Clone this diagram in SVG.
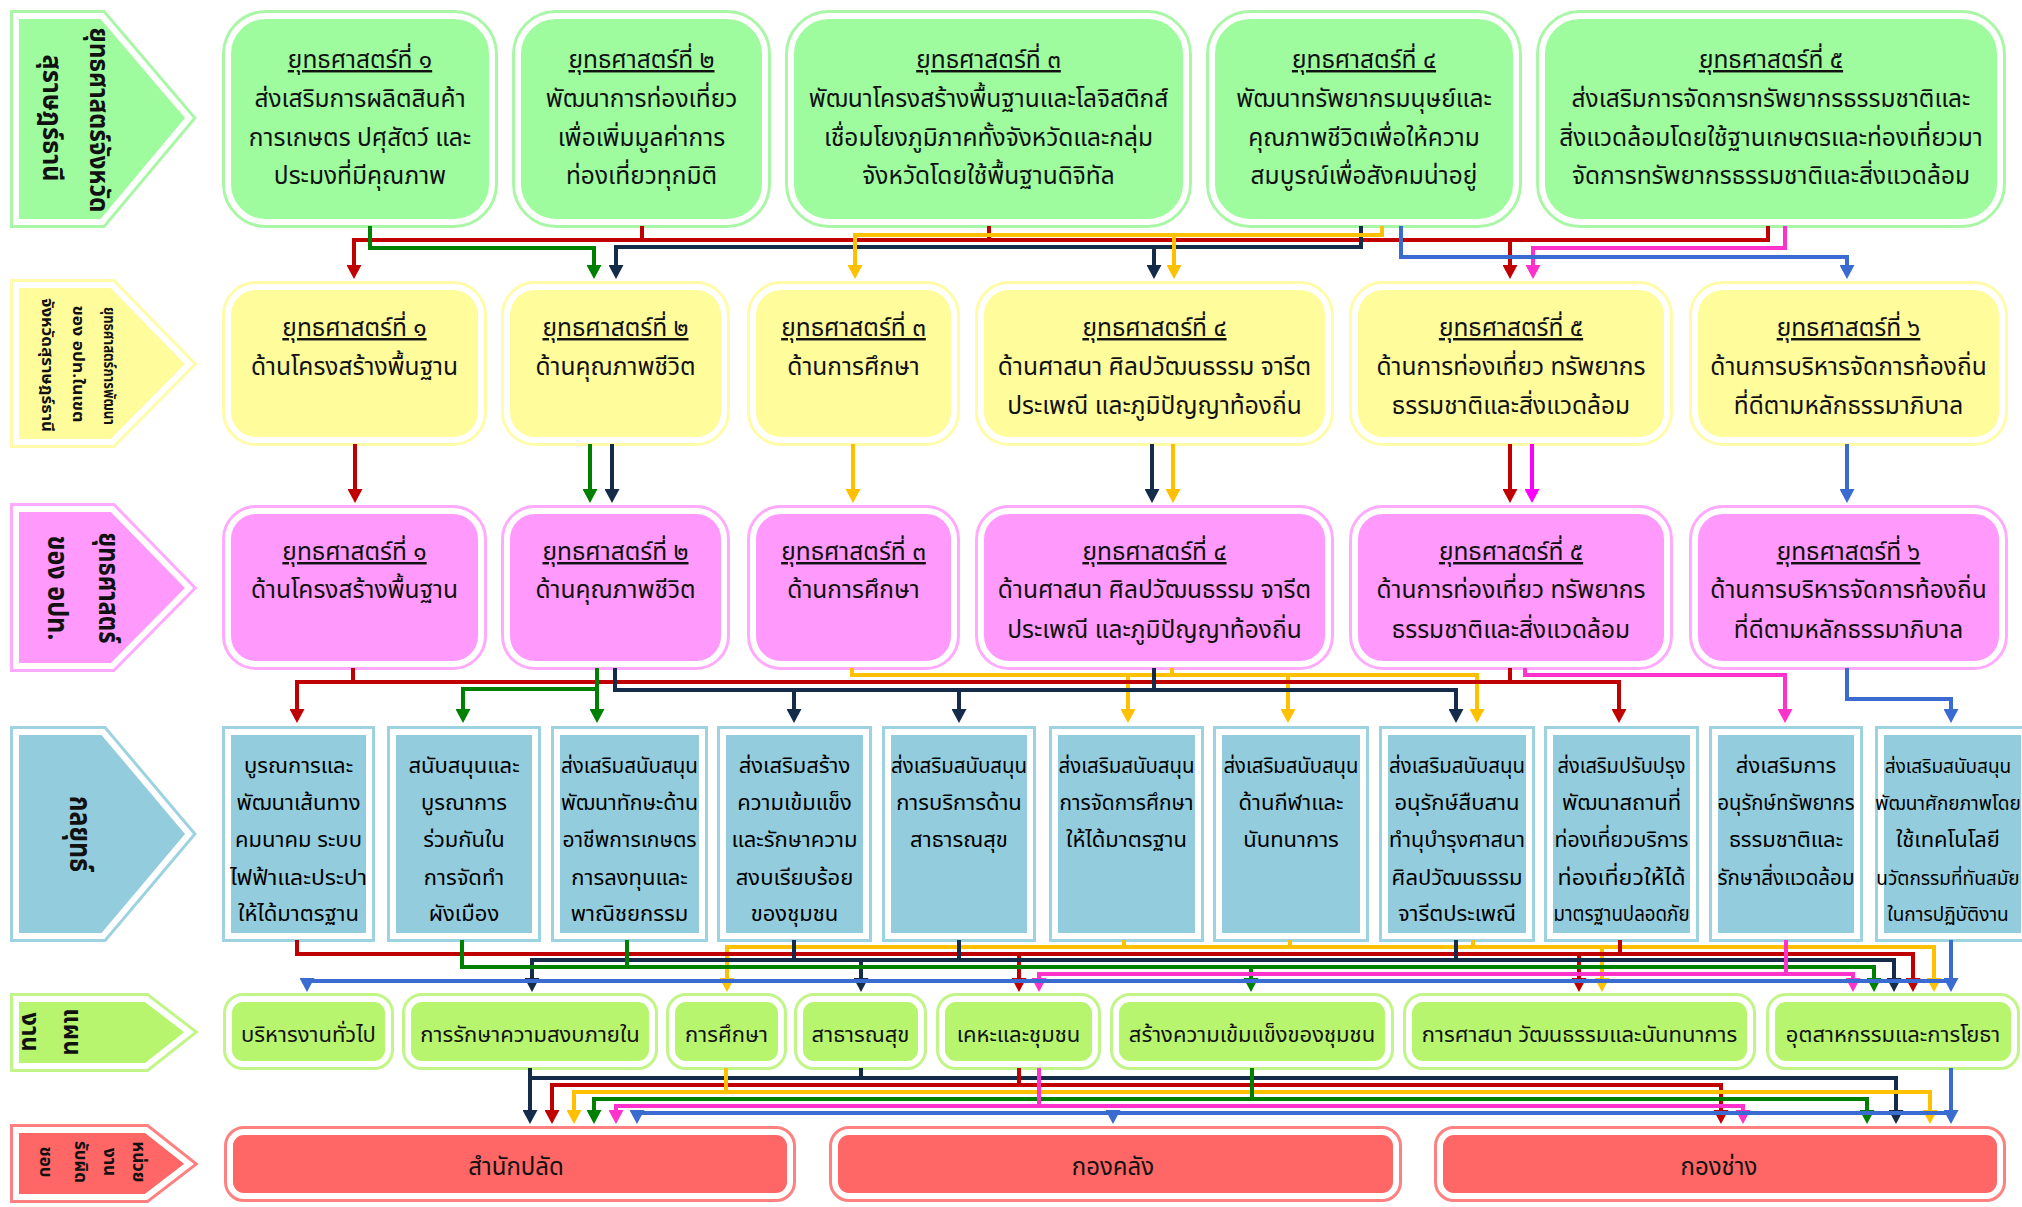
<svg xmlns="http://www.w3.org/2000/svg" width="2022" height="1207" viewBox="0 0 2022 1207">
<style>
.t{font-family:"Noto Sans Thai","Noto Sans Thai UI","Sarabun","Loma","Garuda","Noto Sans","DejaVu Sans",sans-serif;fill:#111;text-anchor:middle}
.s1{font-size:24.5px}
.s4{font-size:22px;fill:#000}
.s5{font-size:22px}
.s6{font-size:24px}
.sm{font-size:19px}
.u{text-decoration:underline}
.lb{font-weight:bold}
.ring{fill:none;stroke-width:12}
.in{stroke:#fff;stroke-width:6}
.gR{stroke:#A9F7A6}.gF{fill:#9EFB9E}
.yR{stroke:#FFFBA8}.yF{fill:#FFFC9C}
.pR{stroke:#FFAAFD}.pF{fill:#FF9AFC}
.bR{stroke:#9DD3E1}.bF{fill:#93CDDD}
.lR{stroke:#C2F587}.lF{fill:#B8F56E}
.rR{stroke:#FF8080}.rF{fill:#FF6666}
#conn path{fill:none;stroke-width:4;stroke-linecap:square}
.cr{stroke:#C00000}.cg{stroke:#008000}.cn{stroke:#152B4A}.cy{stroke:#FFC000}.cb{stroke:#3A6BD0}.cp{stroke:#FF33CC}.cm{stroke:#FF00FF}
</style>
<defs>
<marker id="mr" markerUnits="userSpaceOnUse" markerWidth="14" markerHeight="15" refX="4" refY="7.5" orient="auto"><path d="M0,0 L14,7.5 L0,15 z" fill="#C00000"/></marker>
<marker id="mg" markerUnits="userSpaceOnUse" markerWidth="14" markerHeight="15" refX="4" refY="7.5" orient="auto"><path d="M0,0 L14,7.5 L0,15 z" fill="#008000"/></marker>
<marker id="mn" markerUnits="userSpaceOnUse" markerWidth="14" markerHeight="15" refX="4" refY="7.5" orient="auto"><path d="M0,0 L14,7.5 L0,15 z" fill="#152B4A"/></marker>
<marker id="my" markerUnits="userSpaceOnUse" markerWidth="14" markerHeight="15" refX="4" refY="7.5" orient="auto"><path d="M0,0 L14,7.5 L0,15 z" fill="#FFC000"/></marker>
<marker id="mb" markerUnits="userSpaceOnUse" markerWidth="14" markerHeight="15" refX="4" refY="7.5" orient="auto"><path d="M0,0 L14,7.5 L0,15 z" fill="#3A6BD0"/></marker>
<marker id="mp" markerUnits="userSpaceOnUse" markerWidth="14" markerHeight="15" refX="4" refY="7.5" orient="auto"><path d="M0,0 L14,7.5 L0,15 z" fill="#FF33CC"/></marker>
<marker id="mm" markerUnits="userSpaceOnUse" markerWidth="14" markerHeight="15" refX="4" refY="7.5" orient="auto"><path d="M0,0 L14,7.5 L0,15 z" fill="#FF00FF"/></marker>
</defs>
<rect width="2022" height="1207" fill="#fff"/>

<!-- Row labels -->
<g id="label-province">
<polygon class="ring gR" points="16,16 102,16 189,118 102,222 16,222"/>
<polygon class="in gF" points="16,16 102,16 189,118 102,222 16,222"/>
<text class="t lb" font-size="27" textLength="185" lengthAdjust="spacingAndGlyphs" transform="translate(90,120) rotate(90)">ยุทธศาสตร์จังหวัด</text>
<text class="t lb" font-size="27" textLength="127" lengthAdjust="spacingAndGlyphs" transform="translate(43,118) rotate(90)">สุราษฎร์ธานี</text>
</g>
<g id="label-pao">
<polygon class="ring yR" points="16,285 112,285 189,364 112,442 16,442"/>
<polygon class="in yF" points="16,285 112,285 189,364 112,442 16,442"/>
<text class="t lb" font-size="16" textLength="118" lengthAdjust="spacingAndGlyphs" transform="translate(104,366) rotate(90)">ยุทธศาสตร์การพัฒนา</text>
<text class="t lb" font-size="16" textLength="117" lengthAdjust="spacingAndGlyphs" transform="translate(73,364) rotate(90)">ของ อปท.ในเขต</text>
<text class="t lb" font-size="16" textLength="134" lengthAdjust="spacingAndGlyphs" transform="translate(42,365) rotate(90)">จังหวัดสุราษฎร์ธานี</text>
</g>
<g id="label-local">
<polygon class="ring pR" points="16,509 112,509 189,588 112,666 16,666"/>
<polygon class="in pF" points="16,509 112,509 189,588 112,666 16,666"/>
<text class="t lb" font-size="28" textLength="111" lengthAdjust="spacingAndGlyphs" transform="translate(99,588) rotate(90)">ยุทธศาสตร์</text>
<text class="t lb" font-size="28" textLength="105" lengthAdjust="spacingAndGlyphs" transform="translate(48,588) rotate(90)">ของ อปท.</text>
</g>
<g id="label-tactics">
<polygon class="ring bR" points="16,732 103,732 189,834 103,936 16,936"/>
<polygon class="in bF" points="16,732 103,732 189,834 103,936 16,936"/>
<text class="t lb" font-size="30" textLength="76" lengthAdjust="spacingAndGlyphs" transform="translate(70,834) rotate(90)">กลยุทธ์</text>
</g>
<g id="label-plan">
<polygon class="ring lR" points="16,999 146,999 189,1032 146,1066 16,1066"/>
<polygon class="in lF" points="16,999 146,999 189,1032 146,1066 16,1066"/>
<text class="t lb" font-size="24" transform="translate(64,1032) rotate(90)">แผน</text>
<text class="t lb" font-size="24" transform="translate(22,1032) rotate(90)">งาน</text>
</g>
<g id="label-unit">
<polygon class="ring rR" points="16,1130 146,1130 189,1164 146,1197 16,1197"/>
<polygon class="in rF" points="16,1130 146,1130 189,1164 146,1197 16,1197"/>
<text class="t lb" font-size="17" transform="translate(133,1162) rotate(90)">หน่วย</text>
<text class="t lb" font-size="17" transform="translate(104,1162) rotate(90)">งาน</text>
<text class="t lb" font-size="17" transform="translate(75,1162) rotate(90)">รับผิด</text>
<text class="t lb" font-size="17" transform="translate(40,1162) rotate(90)">ชอบ</text>
</g>

<!-- Row 1 -->
<g id="p1">
<rect class="ring gR" x="228" y="16" width="264" height="206" rx="38"/>
<rect class="in gF" x="228" y="16" width="264" height="206" rx="38"/>
<text class="t s1"><tspan class="u" x="360" y="68">ยุทธศาสตร์ที่ ๑</tspan><tspan x="360" y="107">ส่งเสริมการผลิตสินค้า</tspan><tspan x="360" y="146">การเกษตร ปศุสัตว์ และ</tspan><tspan x="360" y="184">ประมงที่มีคุณภาพ</tspan></text>
</g>
<g id="p2">
<rect class="ring gR" x="518" y="16" width="247" height="206" rx="38"/>
<rect class="in gF" x="518" y="16" width="247" height="206" rx="38"/>
<text class="t s1"><tspan class="u" x="641.5" y="68">ยุทธศาสตร์ที่ ๒</tspan><tspan x="641.5" y="107">พัฒนาการท่องเที่ยว</tspan><tspan x="641.5" y="146">เพื่อเพิ่มมูลค่าการ</tspan><tspan x="641.5" y="184">ท่องเที่ยวทุกมิติ</tspan></text>
</g>
<g id="p3">
<rect class="ring gR" x="791" y="16" width="395" height="206" rx="38"/>
<rect class="in gF" x="791" y="16" width="395" height="206" rx="38"/>
<text class="t s1"><tspan class="u" x="988.5" y="68">ยุทธศาสตร์ที่ ๓</tspan><tspan x="988.5" y="107">พัฒนาโครงสร้างพื้นฐานและโลจิสติกส์</tspan><tspan x="988.5" y="146">เชื่อมโยงภูมิภาคทั้งจังหวัดและกลุ่ม</tspan><tspan x="988.5" y="184">จังหวัดโดยใช้พื้นฐานดิจิทัล</tspan></text>
</g>
<g id="p4">
<rect class="ring gR" x="1212" y="16" width="304" height="206" rx="38"/>
<rect class="in gF" x="1212" y="16" width="304" height="206" rx="38"/>
<text class="t s1"><tspan class="u" x="1364" y="68">ยุทธศาสตร์ที่ ๔</tspan><tspan x="1364" y="107">พัฒนาทรัพยากรมนุษย์และ</tspan><tspan x="1364" y="146">คุณภาพชีวิตเพื่อให้ความ</tspan><tspan x="1364" y="184">สมบูรณ์เพื่อสังคมน่าอยู่</tspan></text>
</g>
<g id="p5">
<rect class="ring gR" x="1542" y="16" width="458" height="206" rx="38"/>
<rect class="in gF" x="1542" y="16" width="458" height="206" rx="38"/>
<text class="t s1"><tspan class="u" x="1771" y="68">ยุทธศาสตร์ที่ ๕</tspan><tspan x="1771" y="107">ส่งเสริมการจัดการทรัพยากรธรรมชาติและ</tspan><tspan x="1771" y="146">สิ่งแวดล้อมโดยใช้ฐานเกษตรและท่องเที่ยวมา</tspan><tspan x="1771" y="184">จัดการทรัพยากรธรรมชาติและสิ่งแวดล้อม</tspan></text>
</g>

<!-- Row 2 -->
<g id="d1">
<rect class="ring yR" x="228" y="287" width="253" height="153" rx="28"/>
<rect class="in yF" x="228" y="287" width="253" height="153" rx="28"/>
<text class="t s1"><tspan class="u" x="354.5" y="336">ยุทธศาสตร์ที่ ๑</tspan><tspan x="354.5" y="375">ด้านโครงสร้างพื้นฐาน</tspan></text>
</g>
<g id="d2">
<rect class="ring yR" x="507" y="287" width="217" height="153" rx="28"/>
<rect class="in yF" x="507" y="287" width="217" height="153" rx="28"/>
<text class="t s1"><tspan class="u" x="615.5" y="336">ยุทธศาสตร์ที่ ๒</tspan><tspan x="615.5" y="375">ด้านคุณภาพชีวิต</tspan></text>
</g>
<g id="d3">
<rect class="ring yR" x="753" y="287" width="201" height="153" rx="28"/>
<rect class="in yF" x="753" y="287" width="201" height="153" rx="28"/>
<text class="t s1"><tspan class="u" x="853.5" y="336">ยุทธศาสตร์ที่ ๓</tspan><tspan x="853.5" y="375">ด้านการศึกษา</tspan></text>
</g>
<g id="d4">
<rect class="ring yR" x="981" y="287" width="347" height="153" rx="28"/>
<rect class="in yF" x="981" y="287" width="347" height="153" rx="28"/>
<text class="t s1"><tspan class="u" x="1154.5" y="336">ยุทธศาสตร์ที่ ๔</tspan><tspan x="1154.5" y="375">ด้านศาสนา ศิลปวัฒนธรรม จารีต</tspan><tspan x="1154.5" y="414">ประเพณี และภูมิปัญญาท้องถิ่น</tspan></text>
</g>
<g id="d5">
<rect class="ring yR" x="1355" y="287" width="312" height="153" rx="28"/>
<rect class="in yF" x="1355" y="287" width="312" height="153" rx="28"/>
<text class="t s1"><tspan class="u" x="1511" y="336">ยุทธศาสตร์ที่ ๕</tspan><tspan x="1511" y="375">ด้านการท่องเที่ยว ทรัพยากร</tspan><tspan x="1511" y="414">ธรรมชาติและสิ่งแวดล้อม</tspan></text>
</g>
<g id="d6">
<rect class="ring yR" x="1695" y="287" width="307" height="153" rx="28"/>
<rect class="in yF" x="1695" y="287" width="307" height="153" rx="28"/>
<text class="t s1"><tspan class="u" x="1848.5" y="336">ยุทธศาสตร์ที่ ๖</tspan><tspan x="1848.5" y="375">ด้านการบริหารจัดการท้องถิ่น</tspan><tspan x="1848.5" y="414">ที่ดีตามหลักธรรมาภิบาล</tspan></text>
</g>

<!-- Row 3 -->
<g id="s1">
<rect class="ring pR" x="228" y="511" width="253" height="153" rx="28"/>
<rect class="in pF" x="228" y="511" width="253" height="153" rx="28"/>
<text class="t s1"><tspan class="u" x="354.5" y="560">ยุทธศาสตร์ที่ ๑</tspan><tspan x="354.5" y="598">ด้านโครงสร้างพื้นฐาน</tspan></text>
</g>
<g id="s2">
<rect class="ring pR" x="507" y="511" width="217" height="153" rx="28"/>
<rect class="in pF" x="507" y="511" width="217" height="153" rx="28"/>
<text class="t s1"><tspan class="u" x="615.5" y="560">ยุทธศาสตร์ที่ ๒</tspan><tspan x="615.5" y="598">ด้านคุณภาพชีวิต</tspan></text>
</g>
<g id="s3">
<rect class="ring pR" x="753" y="511" width="201" height="153" rx="28"/>
<rect class="in pF" x="753" y="511" width="201" height="153" rx="28"/>
<text class="t s1"><tspan class="u" x="853.5" y="560">ยุทธศาสตร์ที่ ๓</tspan><tspan x="853.5" y="598">ด้านการศึกษา</tspan></text>
</g>
<g id="s4">
<rect class="ring pR" x="981" y="511" width="347" height="153" rx="28"/>
<rect class="in pF" x="981" y="511" width="347" height="153" rx="28"/>
<text class="t s1"><tspan class="u" x="1154.5" y="560">ยุทธศาสตร์ที่ ๔</tspan><tspan x="1154.5" y="598">ด้านศาสนา ศิลปวัฒนธรรม จารีต</tspan><tspan x="1154.5" y="638">ประเพณี และภูมิปัญญาท้องถิ่น</tspan></text>
</g>
<g id="s5">
<rect class="ring pR" x="1355" y="511" width="312" height="153" rx="28"/>
<rect class="in pF" x="1355" y="511" width="312" height="153" rx="28"/>
<text class="t s1"><tspan class="u" x="1511" y="560">ยุทธศาสตร์ที่ ๕</tspan><tspan x="1511" y="598">ด้านการท่องเที่ยว ทรัพยากร</tspan><tspan x="1511" y="638">ธรรมชาติและสิ่งแวดล้อม</tspan></text>
</g>
<g id="s6">
<rect class="ring pR" x="1695" y="511" width="307" height="153" rx="28"/>
<rect class="in pF" x="1695" y="511" width="307" height="153" rx="28"/>
<text class="t s1"><tspan class="u" x="1848.5" y="560">ยุทธศาสตร์ที่ ๖</tspan><tspan x="1848.5" y="598">ด้านการบริหารจัดการท้องถิ่น</tspan><tspan x="1848.5" y="638">ที่ดีตามหลักธรรมาภิบาล</tspan></text>
</g>

<!-- Row 4 tactics -->
<g id="k1"><rect class="ring bR" x="228" y="732" width="141" height="204"/><rect class="in bF" x="228" y="732" width="141" height="204"/>
<text class="t s4"><tspan x="298.5" y="773">บูรณการและ</tspan><tspan x="298.5" y="810">พัฒนาเส้นทาง</tspan><tspan x="298.5" y="847">คมนาคม ระบบ</tspan><tspan x="298.5" y="885" textLength="137" lengthAdjust="spacingAndGlyphs">ไฟฟ้าและประปา</tspan><tspan x="298.5" y="921">ให้ได้มาตรฐาน</tspan></text></g>
<g id="k2"><rect class="ring bR" x="393" y="732" width="142" height="204"/><rect class="in bF" x="393" y="732" width="142" height="204"/>
<text class="t s4"><tspan x="464" y="773">สนับสนุนและ</tspan><tspan x="464" y="810">บูรณาการ</tspan><tspan x="464" y="847">ร่วมกันใน</tspan><tspan x="464" y="885">การจัดทำ</tspan><tspan x="464" y="921">ผังเมือง</tspan></text></g>
<g id="k3"><rect class="ring bR" x="557" y="732" width="145" height="204"/><rect class="in bF" x="557" y="732" width="145" height="204"/>
<text class="t s4"><tspan x="629.5" y="773" textLength="137" lengthAdjust="spacingAndGlyphs">ส่งเสริมสนับสนุน</tspan><tspan x="629.5" y="810" textLength="137" lengthAdjust="spacingAndGlyphs">พัฒนาทักษะด้าน</tspan><tspan x="629.5" y="847" textLength="134" lengthAdjust="spacingAndGlyphs">อาชีพการเกษตร</tspan><tspan x="629.5" y="885">การลงทุนและ</tspan><tspan x="629.5" y="921">พาณิชยกรรม</tspan></text></g>
<g id="k4"><rect class="ring bR" x="723" y="732" width="143" height="204"/><rect class="in bF" x="723" y="732" width="143" height="204"/>
<text class="t s4"><tspan x="794.5" y="773">ส่งเสริมสร้าง</tspan><tspan x="794.5" y="810">ความเข้มแข็ง</tspan><tspan x="794.5" y="847">และรักษาความ</tspan><tspan x="794.5" y="885">สงบเรียบร้อย</tspan><tspan x="794.5" y="921">ของชุมชน</tspan></text></g>
<g id="k5"><rect class="ring bR" x="888" y="732" width="142" height="204"/><rect class="in bF" x="888" y="732" width="142" height="204"/>
<text class="t s4"><tspan x="959" y="773" textLength="136" lengthAdjust="spacingAndGlyphs">ส่งเสริมสนับสนุน</tspan><tspan x="959" y="810">การบริการด้าน</tspan><tspan x="959" y="847">สาธารณสุข</tspan></text></g>
<g id="k6"><rect class="ring bR" x="1055" y="732" width="143" height="204"/><rect class="in bF" x="1055" y="732" width="143" height="204"/>
<text class="t s4"><tspan x="1126.5" y="773" textLength="136" lengthAdjust="spacingAndGlyphs">ส่งเสริมสนับสนุน</tspan><tspan x="1126.5" y="810" textLength="134" lengthAdjust="spacingAndGlyphs">การจัดการศึกษา</tspan><tspan x="1126.5" y="847">ให้ได้มาตรฐาน</tspan></text></g>
<g id="k7"><rect class="ring bR" x="1219" y="732" width="144" height="204"/><rect class="in bF" x="1219" y="732" width="144" height="204"/>
<text class="t s4"><tspan x="1291" y="773" textLength="135" lengthAdjust="spacingAndGlyphs">ส่งเสริมสนับสนุน</tspan><tspan x="1291" y="810">ด้านกีฬาและ</tspan><tspan x="1291" y="847">นันทนาการ</tspan></text></g>
<g id="k8"><rect class="ring bR" x="1385" y="732" width="144" height="204"/><rect class="in bF" x="1385" y="732" width="144" height="204"/>
<text class="t s4"><tspan x="1457" y="773" textLength="136" lengthAdjust="spacingAndGlyphs">ส่งเสริมสนับสนุน</tspan><tspan x="1457" y="810">อนุรักษ์สืบสาน</tspan><tspan x="1457" y="847" textLength="136" lengthAdjust="spacingAndGlyphs">ทำนุบำรุงศาสนา</tspan><tspan x="1457" y="885">ศิลปวัฒนธรรม</tspan><tspan x="1457" y="921">จารีตประเพณี</tspan></text></g>
<g id="k9"><rect class="ring bR" x="1550" y="732" width="143" height="204"/><rect class="in bF" x="1550" y="732" width="143" height="204"/>
<text class="t s4"><tspan x="1621.5" y="773" textLength="128" lengthAdjust="spacingAndGlyphs">ส่งเสริมปรับปรุง</tspan><tspan x="1621.5" y="810">พัฒนาสถานที่</tspan><tspan x="1621.5" y="847" textLength="134" lengthAdjust="spacingAndGlyphs">ท่องเที่ยวบริการ</tspan><tspan x="1621.5" y="885" textLength="128" lengthAdjust="spacingAndGlyphs">ท่องเที่ยวให้ได้</tspan><tspan x="1621.5" y="921" textLength="136" lengthAdjust="spacingAndGlyphs">มาตรฐานปลอดภัย</tspan></text></g>
<g id="k10"><rect class="ring bR" x="1715" y="732" width="142" height="204"/><rect class="in bF" x="1715" y="732" width="142" height="204"/>
<text class="t s4"><tspan x="1786" y="773">ส่งเสริมการ</tspan><tspan x="1786" y="810" textLength="137" lengthAdjust="spacingAndGlyphs">อนุรักษ์ทรัพยากร</tspan><tspan x="1786" y="847">ธรรมชาติและ</tspan><tspan x="1786" y="885" textLength="137" lengthAdjust="spacingAndGlyphs">รักษาสิ่งแวดล้อม</tspan></text></g>
<g id="k11"><rect class="ring bR" x="1881" y="732" width="143" height="204"/><rect class="in bF" x="1881" y="732" width="143" height="204"/>
<text class="t s4"><tspan class="sm" x="1948" y="773">ส่งเสริมสนับสนุน</tspan><tspan class="sm" x="1948" y="810">พัฒนาศักยภาพโดย</tspan><tspan x="1948" y="847">ใช้เทคโนโลยี</tspan><tspan class="sm" x="1948" y="885">นวัตกรรมที่ทันสมัย</tspan><tspan class="sm" x="1948" y="921">ในการปฏิบัติงาน</tspan></text></g>

<!-- Row 5 plans -->
<g id="w1"><rect class="ring lR" x="229" y="999" width="159" height="65" rx="14"/><rect class="in lF" x="229" y="999" width="159" height="65" rx="14"/><text class="t s5" x="308.5" y="1042">บริหารงานทั่วไป</text></g>
<g id="w2"><rect class="ring lR" x="408" y="999" width="244" height="65" rx="14"/><rect class="in lF" x="408" y="999" width="244" height="65" rx="14"/><text class="t s5" x="530" y="1042">การรักษาความสงบภายใน</text></g>
<g id="w3"><rect class="ring lR" x="672" y="999" width="109" height="65" rx="14"/><rect class="in lF" x="672" y="999" width="109" height="65" rx="14"/><text class="t s5" x="726.5" y="1042">การศึกษา</text></g>
<g id="w4"><rect class="ring lR" x="800" y="999" width="121" height="65" rx="14"/><rect class="in lF" x="800" y="999" width="121" height="65" rx="14"/><text class="t s5" x="860.5" y="1042">สาธารณสุข</text></g>
<g id="w5"><rect class="ring lR" x="942" y="999" width="153" height="65" rx="14"/><rect class="in lF" x="942" y="999" width="153" height="65" rx="14"/><text class="t s5" x="1018.5" y="1042">เคหะและชุมชน</text></g>
<g id="w6"><rect class="ring lR" x="1116" y="999" width="272" height="65" rx="14"/><rect class="in lF" x="1116" y="999" width="272" height="65" rx="14"/><text class="t s5" x="1252" y="1042">สร้างความเข้มแข็งของชุมชน</text></g>
<g id="w7"><rect class="ring lR" x="1409" y="999" width="341" height="65" rx="14"/><rect class="in lF" x="1409" y="999" width="341" height="65" rx="14"/><text class="t s5" x="1579.5" y="1042">การศาสนา วัฒนธรรมและนันทนาการ</text></g>
<g id="w8"><rect class="ring lR" x="1772" y="999" width="242" height="65" rx="14"/><rect class="in lF" x="1772" y="999" width="242" height="65" rx="14"/><text class="t s5" x="1893" y="1042">อุตสาหกรรมและการโยธา</text></g>

<!-- Row 6 units -->
<g id="u1"><rect class="ring rR" x="230" y="1132" width="560" height="64" rx="14"/><rect class="in rF" x="230" y="1132" width="560" height="64" rx="14"/><text class="t s6" x="516" y="1175">สำนักปลัด</text></g>
<g id="u2"><rect class="ring rR" x="835" y="1132" width="561" height="64" rx="14"/><rect class="in rF" x="835" y="1132" width="561" height="64" rx="14"/><text class="t s6" x="1113" y="1175">กองคลัง</text></g>
<g id="u3"><rect class="ring rR" x="1440" y="1132" width="560" height="64" rx="14"/><rect class="in rF" x="1440" y="1132" width="560" height="64" rx="14"/><text class="t s6" x="1719" y="1175">กองช่าง</text></g>

<g id="conn">
<!-- row1 -> row2 -->
<path class="cr" d="M642,228 V240"/><path class="cr" d="M989,228 V240"/>
<path class="cr" d="M1768,228 V240 H354 V269" marker-end="url(#mr)"/>
<path class="cr" d="M1510,240 V269" marker-end="url(#mr)"/>
<path class="cg" d="M370,228 V248 H594 V269" marker-end="url(#mg)"/>
<path class="cn" d="M1361,228 V247 H616 V269" marker-end="url(#mn)"/>
<path class="cn" d="M1154,247 V269" marker-end="url(#mn)"/>
<path class="cy" d="M1382,228 V235 H855 V269" marker-end="url(#my)"/>
<path class="cy" d="M1174,235 V269" marker-end="url(#my)"/>
<path class="cp" d="M1785,228 V248 H1533 V269" marker-end="url(#mp)"/>
<path class="cb" d="M1401,228 V257 H1847 V269" marker-end="url(#mb)"/>
<!-- row2 -> row3 -->
<path class="cr" d="M355,446 V493" marker-end="url(#mr)"/>
<path class="cg" d="M590,446 V493" marker-end="url(#mg)"/>
<path class="cn" d="M612,446 V493" marker-end="url(#mn)"/>
<path class="cy" d="M853,446 V493" marker-end="url(#my)"/>
<path class="cn" d="M1152,446 V493" marker-end="url(#mn)"/>
<path class="cy" d="M1173,446 V493" marker-end="url(#my)"/>
<path class="cr" d="M1510,446 V493" marker-end="url(#mr)"/>
<path class="cm" d="M1532,446 V493" marker-end="url(#mm)"/>
<path class="cb" d="M1847,446 V493" marker-end="url(#mb)"/>
<!-- row3 -> row4 -->
<path class="cy" d="M852,670 V675 H1477 V713" marker-end="url(#my)"/>
<path class="cy" d="M1172,670 V675"/>
<path class="cy" d="M1128,675 V713" marker-end="url(#my)"/>
<path class="cy" d="M1288,675 V713" marker-end="url(#my)"/>
<path class="cp" d="M1525,670 V675 H1785 V713" marker-end="url(#mp)"/>
<path class="cr" d="M353,670 V682 H297 V713" marker-end="url(#mr)"/>
<path class="cr" d="M353,682 H1510"/>
<path class="cr" d="M1510,670 V682 H1619 V713" marker-end="url(#mr)"/>
<path class="cg" d="M597,670 V713" marker-end="url(#mg)"/>
<path class="cg" d="M597,689 H463 V713" marker-end="url(#mg)"/>
<path class="cn" d="M615,670 V690 H1456 V713" marker-end="url(#mn)"/>
<path class="cn" d="M1154,670 V690"/>
<path class="cn" d="M794,690 V713" marker-end="url(#mn)"/>
<path class="cn" d="M959,690 V713" marker-end="url(#mn)"/>
<path class="cb" d="M1847,670 V699 H1951 V713" marker-end="url(#mb)"/>
<!-- row4 -> row5 -->
<path class="cy" d="M1124,942 V947"/><path class="cy" d="M1290,942 V947"/><path class="cy" d="M1473,942 V947"/>
<path class="cy" d="M727,947 H1934 V982" marker-end="url(#my)"/>
<path class="cy" d="M727,947 V982" marker-end="url(#my)"/>
<path class="cy" d="M1602,947 V982" marker-end="url(#my)"/>
<path class="cr" d="M297,942 V954 H1913 V982" marker-end="url(#mr)"/>
<path class="cr" d="M1620,942 V954"/>
<path class="cr" d="M1019,954 V982" marker-end="url(#mr)"/>
<path class="cr" d="M1579,954 V982" marker-end="url(#mr)"/>
<path class="cn" d="M794,942 V960"/><path class="cn" d="M959,942 V960"/><path class="cn" d="M1456,942 V960"/>
<path class="cn" d="M532,960 H1894 V982" marker-end="url(#mn)"/>
<path class="cn" d="M532,960 V982" marker-end="url(#mn)"/>
<path class="cn" d="M861,960 V982" marker-end="url(#mn)"/>
<path class="cg" d="M462,942 V967 H1874 V982" marker-end="url(#mg)"/>
<path class="cg" d="M627,942 V967"/>
<path class="cg" d="M1251,967 V982" marker-end="url(#mg)"/>
<path class="cp" d="M1786,942 V974"/>
<path class="cp" d="M1039,974 H1853 V982" marker-end="url(#mp)"/>
<path class="cp" d="M1039,974 V982" marker-end="url(#mp)"/>
<path class="cb" d="M1951,942 V982" marker-end="url(#mb)"/>
<path class="cb" d="M1951,981 H307 V982" marker-end="url(#mb)"/>
<!-- row5 -> row6 -->
<path class="cn" d="M530,1070 V1114" marker-end="url(#mn)"/>
<path class="cn" d="M530,1078 H1896 V1114" marker-end="url(#mn)"/>
<path class="cn" d="M861,1070 V1078"/>
<path class="cr" d="M1019,1070 V1085 H552 V1114" marker-end="url(#mr)"/>
<path class="cr" d="M1019,1085 H1721 V1114" marker-end="url(#mr)"/>
<path class="cy" d="M726,1070 V1092 H574 V1114" marker-end="url(#my)"/>
<path class="cy" d="M726,1092 H1930 V1114" marker-end="url(#my)"/>
<path class="cg" d="M1252,1070 V1099 H594 V1114" marker-end="url(#mg)"/>
<path class="cg" d="M1252,1099 H1867 V1114" marker-end="url(#mg)"/>
<path class="cp" d="M1039,1070 V1106 H616 V1114" marker-end="url(#mp)"/>
<path class="cp" d="M1039,1106 H1743 V1114" marker-end="url(#mp)"/>
<path class="cb" d="M1951,1070 V1114" marker-end="url(#mb)"/>
<path class="cb" d="M1951,1113 H637 V1114" marker-end="url(#mb)"/>
<path class="cb" d="M1113,1113 V1114" marker-end="url(#mb)"/>
</g>
</svg>
